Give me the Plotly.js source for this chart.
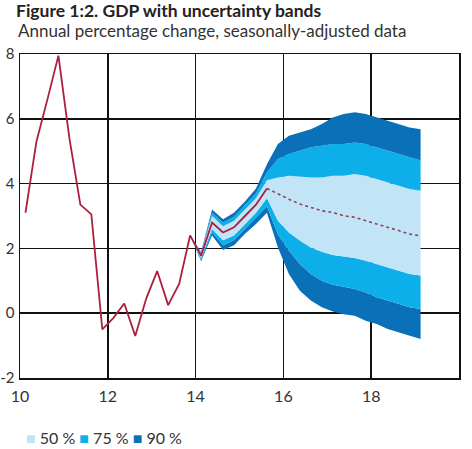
<!DOCTYPE html>
<html>
<head>
<meta charset="utf-8">
<script src="https://cdn.plot.ly/plotly-3.0.1.min.js"></script>
<style>html,body{margin:0;padding:0;background:#fff;}#chart{width:472px;height:449px;}</style>
</head>
<body>
<div id="chart"></div>
<script>
// Historical GDP growth (quarterly, year fractions)
const histX = [10.125, 10.375, 10.625, 10.875, 11.125, 11.375, 11.625, 11.875, 12.125, 12.375, 12.625, 12.875,
               13.125, 13.375, 13.625, 13.875, 14.125, 14.375, 14.625, 14.875, 15.125, 15.375, 15.625];
const histY = [3.1, 5.3, 6.6, 7.95, 5.4, 3.35, 3.05, -0.5, -0.15, 0.3, -0.7, 0.45,
               1.3, 0.25, 0.9, 2.4, 1.77, 2.8, 2.49, 2.65, 3.0, 3.35, 3.85];

// Uncertainty bands
const bandX = [13.875, 14.125, 14.375, 14.625, 14.875, 15.125, 15.375, 15.625,
               15.875, 16.125, 16.375, 16.625, 16.875, 17.125, 17.375, 17.625, 17.875, 18.125, 18.375, 18.625, 18.875, 19.125];
const lo90 = [2.4, 1.6, 2.4, 1.95, 2.1, 2.45, 2.75, 3.1,
              2.03, 1.21, 0.69, 0.39, 0.18, 0.05, -0.03, -0.08, -0.23, -0.33, -0.49, -0.59, -0.69, -0.8];
const lo75 = [2.4, 1.65, 2.5, 2.1, 2.25, 2.6, 2.95, 3.3,
              2.44, 1.93, 1.52, 1.21, 1.0, 0.88, 0.82, 0.75, 0.64, 0.49, 0.39, 0.28, 0.18, 0.13];
const lo50 = [2.4, 1.7, 2.6, 2.25, 2.4, 2.75, 3.1, 3.55,
              2.85, 2.49, 2.24, 2.03, 1.9, 1.8, 1.75, 1.7, 1.62, 1.52, 1.41, 1.31, 1.21, 1.16];
const hi50 = [2.4, 1.83, 3.0, 2.68, 2.85, 3.2, 3.55, 4.1,
              4.19, 4.24, 4.21, 4.19, 4.19, 4.24, 4.24, 4.3, 4.24, 4.14, 4.04, 3.94, 3.83, 3.78];
const hi75 = [2.4, 1.87, 3.1, 2.8, 2.98, 3.33, 3.7, 4.35,
              4.76, 4.91, 5.02, 5.12, 5.17, 5.22, 5.22, 5.27, 5.22, 5.12, 5.02, 4.91, 4.81, 4.71];
const hi90 = [2.4, 1.9, 3.2, 2.9, 3.1, 3.45, 3.85, 4.6,
              5.22, 5.48, 5.58, 5.68, 5.84, 6.04, 6.15, 6.2, 6.15, 6.04, 5.94, 5.84, 5.73, 5.68];

// Forecast median
const fcX = [15.625, 15.875, 16.125, 16.375, 16.625, 16.875, 17.125, 17.375, 17.625, 17.875, 18.125, 18.375, 18.625, 18.875, 19.125];
const fcY = [3.85, 3.68, 3.52, 3.37, 3.27, 3.16, 3.11, 3.01, 2.96, 2.85, 2.75, 2.65, 2.55, 2.44, 2.39];

const xTicks = [10, 12, 14, 16, 18];
const yTicks = [-2, 0, 2, 4, 6, 8];
const legendNames = ['50 %', '75 %', '90 %'];

const cLight = '#c2e4f7', cMid = '#0dafeb', cDark = '#0a70b8';
const legendColors = [cLight, cMid, cDark];

function band(y, color, fill) {
  return {x: bandX, y: y, type: 'scatter', mode: 'lines', line: {width: 0, color: color},
          fill: fill, fillcolor: color, showlegend: false, hoverinfo: 'skip'};
}

const traces = [
  band(lo90, cDark, 'none'),
  band(lo75, cDark, 'tonexty'),
  band(lo50, cMid, 'tonexty'),
  band(hi50, cLight, 'tonexty'),
  band(hi75, cMid, 'tonexty'),
  band(hi90, cDark, 'tonexty'),
  {x: histX, y: histY, type: 'scatter', mode: 'lines', line: {color: '#ac1f3e', width: 1.8}, showlegend: false},
  {x: fcX, y: fcY, type: 'scatter', mode: 'lines', line: {color: '#8a4556', width: 1.6, dash: 'dot'}, showlegend: false}
];

const legendText = legendNames.map((n, i) =>
  '<span style="color:' + legendColors[i] + '">■</span> ' + n).join(' ');

const font = 'Lato, "Open Sans", sans-serif';
const layout = {
  width: 472, height: 449,
  margin: {l: 20, r: 13, t: 54, b: 71},
  paper_bgcolor: '#fff', plot_bgcolor: '#fff',
  font: {family: font, size: 16, color: '#333'},
  showlegend: false,
  title: {text: '<b>Figure 1:2. GDP with uncertainty bands</b>', font: {family: font, size: 17.5, color: '#222'},
          xref: 'container', x: 16/472, xanchor: 'left', yref: 'container', y: 1 - 11/449, yanchor: 'middle'},
  annotations: [
    {text: 'Annual percentage change, seasonally-adjusted data', xref: 'paper', yref: 'paper',
     x: -0.008, xanchor: 'left', y: 1.074, yanchor: 'middle', showarrow: false,
     font: {family: font, size: 17, color: '#333'}},
    {text: legendText, xref: 'paper', yref: 'paper', x: 0.01, xanchor: 'left', y: -0.185, yanchor: 'middle',
     showarrow: false, font: {family: font, size: 16, color: '#333'}}
  ],
  xaxis: {range: [10, 20], tickvals: xTicks, ticktext: xTicks.map(String), showgrid: true, gridcolor: '#111', gridwidth: 1.5,
          zeroline: false, showline: true, mirror: true, linecolor: '#111', linewidth: 1.5, ticks: '', ticklabelstandoff: 3, fixedrange: true},
  yaxis: {range: [-2, 8], tickvals: yTicks, ticktext: yTicks.map(String), showgrid: true, gridcolor: '#111', gridwidth: 1.5,
          zeroline: false, showline: true, mirror: true, linecolor: '#111', linewidth: 1.5, ticks: '', ticklabelstandoff: 1,
          tickfont: {family: font, size: 15, color: '#333'}, fixedrange: true}
};

Plotly.newPlot('chart', traces, layout, {displayModeBar: false, staticPlot: true});
</script>
</body>
</html>
